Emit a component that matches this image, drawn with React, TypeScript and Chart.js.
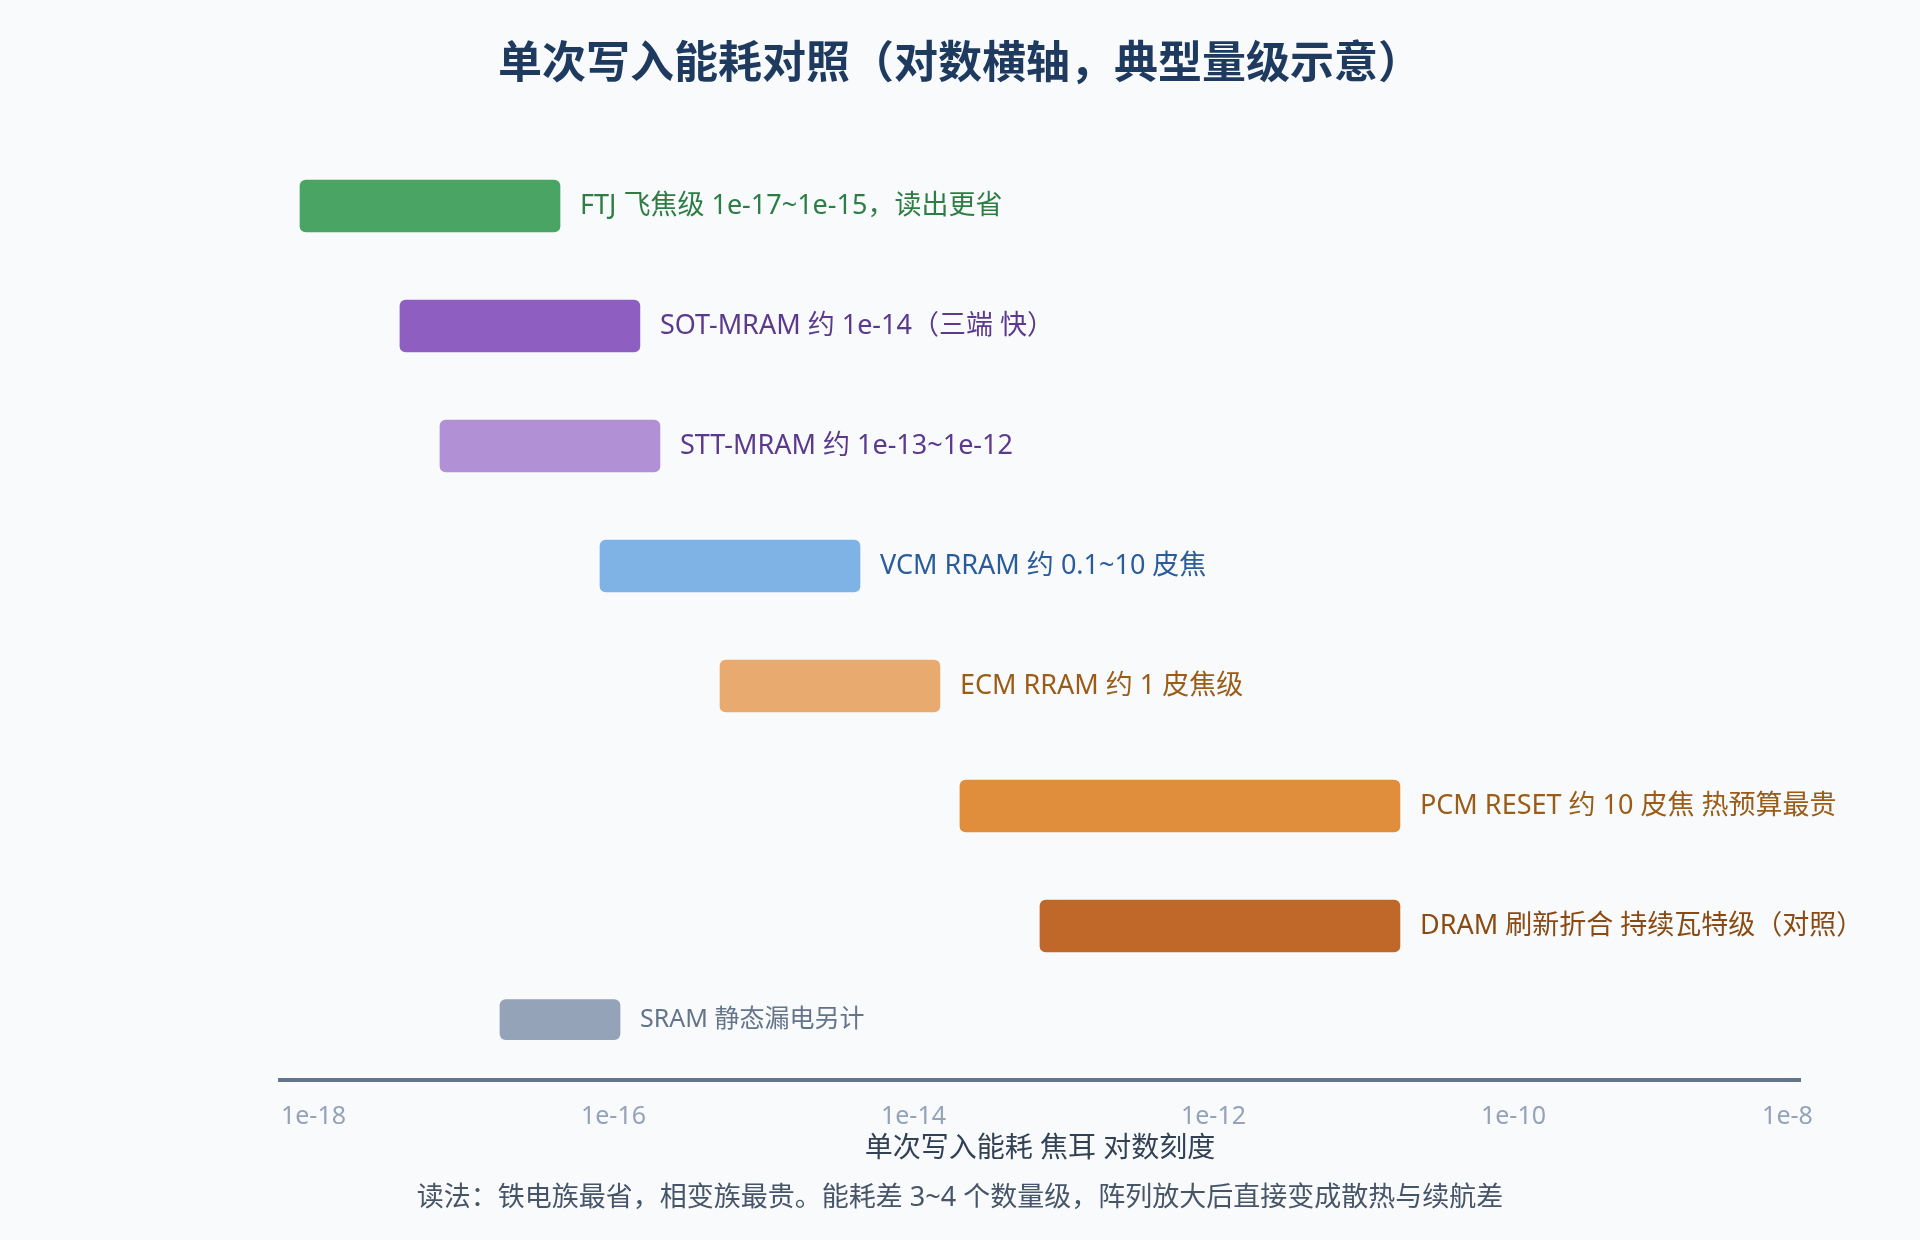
import React, { useEffect, useRef } from 'react';
import { Chart, registerables } from 'chart.js';

Chart.register(...registerables);

// ---- data ----
const categories = ['FTJ', 'SOT-MRAM', 'STT-MRAM', 'VCM RRAM', 'ECM RRAM', 'PCM RESET', 'DRAM', 'SRAM'];
const rowIndex = [0, 1, 2, 3, 4, 5, 6, 6.78];
const energyLow = [8.13e-19, 3.77e-18, 6.97e-18, 8.13e-17, 5.13e-16, 2.04e-14, 6.97e-14, 1.75e-17];
const energyHigh = [4.4e-17, 1.5e-16, 2.04e-16, 4.4e-15, 1.5e-14, 1.75e-11, 1.75e-11, 1.105e-16];
const barLabels = [
  'FTJ 飞焦级 1e-17~1e-15，读出更省',
  'SOT-MRAM 约 1e-14（三端 快）',
  'STT-MRAM 约 1e-13~1e-12',
  'VCM RRAM 约 0.1~10 皮焦',
  'ECM RRAM 约 1 皮焦级',
  'PCM RESET 约 10 皮焦 热预算最贵',
  'DRAM 刷新折合 持续瓦特级（对照）',
  'SRAM 静态漏电另计',
];
const tickValues = [1e-18, 1e-16, 1e-14, 1e-12, 1e-10, 1e-8];
const tickLabels = ['1e-18', '1e-16', '1e-14', '1e-12', '1e-10', '1e-8'];
const axisMin = 5.98e-19;
const axisMax = 8.13e-9;
const titleText = '单次写入能耗对照（对数横轴，典型量级示意）';
const axisTitle = '单次写入能耗 焦耳 对数刻度';
const footnote = '读法：铁电族最省，相变族最贵。能耗差 3~4 个数量级，阵列放大后直接变成散热与续航差';

// ---- styles ----
const barColors = ['#4aa564', '#8e5fc1', '#b190d6', '#7fb3e5', '#e8aa6e', '#e08e3c', '#c0672a', '#94a3b8'];
const labelColors = ['#2e7d45', '#5b3a8e', '#5b3a8e', '#2a5b9a', '#9a5c16', '#9a5c16', '#8a4a12', '#64748b'];
const mainRows = [0, 1, 2, 3, 4, 5, 6];
const sideRows = [7];
const LATIN = "'Noto Sans', 'Noto Sans CJK SC', sans-serif";
const CJK = "'Noto Sans CJK SC', 'Noto Sans', sans-serif";
const BG = '#f8fafc';

const bgPlugin = {
  id: 'bg',
  beforeDraw(chart: any) {
    const { ctx, width, height } = chart;
    ctx.save();
    ctx.fillStyle = BG;
    ctx.fillRect(0, 0, width, height);
    ctx.restore();
  },
};

const labelPlugin = {
  id: 'barLabels',
  afterDatasetsDraw(chart: any) {
    const ctx = chart.ctx;
    chart.data.datasets.forEach((ds: any, di: number) => {
      const meta = chart.getDatasetMeta(di);
      meta.data.forEach((el: any, j: number) => {
        const idx = ds.rows[j];
        const end = Math.max(el.x, el.base);
        ctx.save();
        ctx.font = `${ds.labelSize}px ${LATIN}`;
        ctx.fillStyle = labelColors[idx];
        ctx.textAlign = 'left';
        ctx.textBaseline = 'middle';
        ctx.fillText(barLabels[idx], end + 20, el.y);
        ctx.restore();
      });
    });
  },
};

function makeDataset(rows: number[], thickness: number, labelSize: number) {
  return {
    label: rows.map((i) => categories[i]).join(','),
    rows,
    labelSize,
    data: rows.map((i) => ({ x: [energyLow[i], energyHigh[i]], y: rowIndex[i] })),
    backgroundColor: rows.map((i) => barColors[i]),
    barThickness: thickness,
    borderRadius: 6,
    borderSkipped: false,
    borderWidth: 0,
    grouped: false,
  };
}

export default function App() {
  const ref = useRef<HTMLCanvasElement>(null);
  useEffect(() => {
    document.body.style.margin = '0';
    document.body.style.background = BG;
    const chart = new Chart(ref.current as HTMLCanvasElement, {
      type: 'bar',
      data: {
        datasets: [makeDataset(mainRows, 52, 27), makeDataset(sideRows, 40, 25)] as any,
      },
      options: {
        indexAxis: 'y',
        responsive: false,
        animation: false,
        devicePixelRatio: 1,
        layout: { padding: 0 },
        plugins: {
          legend: { display: false },
          tooltip: { enabled: false },
          title: {
            display: true,
            text: titleText,
            color: '#1e3a5f',
            font: { family: CJK, size: 44, weight: 'bold' },
            padding: { top: 34.6, bottom: 58.6 },
          },
          subtitle: {
            display: true,
            position: 'bottom',
            text: footnote,
            color: '#475569',
            font: { family: LATIN, size: 27, weight: 'normal' },
            padding: { top: 16, bottom: 25.8 },
          },
        },
        scales: {
          x: {
            type: 'logarithmic',
            position: 'bottom',
            min: axisMin,
            max: axisMax,
            afterBuildTicks: (s: any) => {
              s.ticks = tickValues.map((v) => ({ value: v }));
            },
            ticks: {
              align: 'center',
              padding: 22,
              autoSkip: false,
              maxRotation: 0,
              color: '#94a3b8',
              font: { family: LATIN, size: 25 },
              callback: (_v: any, i: number) =>
                i === tickLabels.length - 1 ? tickLabels[i] + '        ' : tickLabels[i],
            },
            grid: { display: false, drawTicks: false },
            border: { display: true, color: '#64748b', width: 4 },
            title: {
              display: true,
              text: axisTitle,
              color: '#334155',
              font: { family: LATIN, size: 28 },
              padding: { top: -21.8, bottom: 0 },
            },
          },
          y: {
            type: 'linear',
            reverse: true,
            offset: false,
            min: -0.5,
            max: 7.2833,
            ticks: { display: false },
            grid: { display: false, drawTicks: false, offset: false },
            border: { display: false },
            afterFit: (s: any) => {
              s.width = 280;
            },
          },
          yRight: {
            type: 'linear',
            position: 'right',
            offset: false,
            ticks: { display: false },
            grid: { display: false, drawTicks: false },
            border: { display: false },
            afterFit: (s: any) => {
              s.width = 120;
            },
          },
        },
      } as any,
      plugins: [bgPlugin, labelPlugin],
    });
    return () => chart.destroy();
  }, []);
  return <canvas ref={ref} width={1920} height={1240} style={{ display: 'block' }} />;
}
